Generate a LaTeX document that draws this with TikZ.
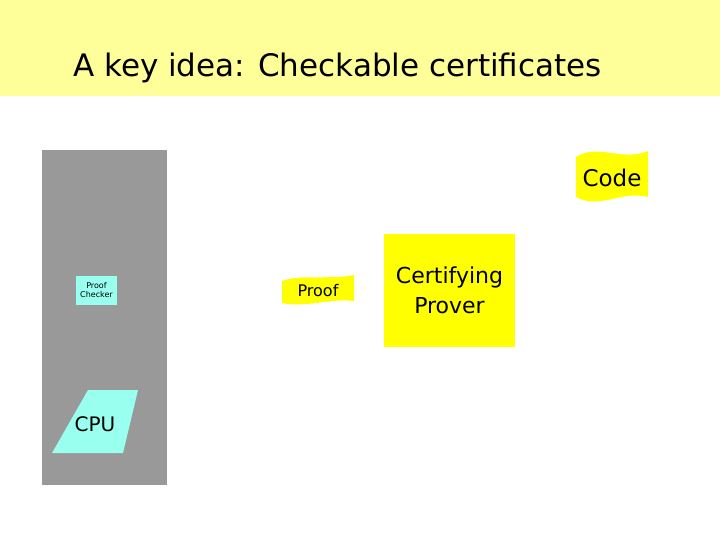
\documentclass[tikz,border=0pt]{standalone}
\usepackage{fontspec}
\setmainfont{DejaVu Sans}
\definecolor{ylw}{RGB}{255,255,0}
\definecolor{pale}{RGB}{255,255,153}
\definecolor{cy}{RGB}{153,255,238}
\begin{document}
\begin{tikzpicture}[x=1pt,y=-1pt,
  wave/.style={fill=ylw,draw=none},
  lbl/.style={inner sep=0pt,align=center}]
\useasboundingbox (0,0) rectangle (720,540);
\fill[white] (0,0) rectangle (720,540);
\fill[pale] (0,0) rectangle (720,96);
\node[lbl,anchor=base west,font=\fontsize{31}{36}\selectfont] (title) at (73,77) {A key idea: Checkable certificates};
\fill[black!40] (42,150) rectangle (167,485);
\node[fill=cy,minimum width=41pt,minimum height=29pt,inner sep=0pt,align=center,font=\fontsize{8}{9}\selectfont] (pc) at (96.5,290.5) {Proof\\Checker};
\fill[cy] (88,390) -- (138,390) -- (123,453) -- (52,453) -- cycle;
\node[lbl,font=\fontsize{20}{24}\selectfont] (cpu) at (95,424) {CPU};
\fill[wave] (576,157) .. controls (598,143) and (622,162) .. (648,151) -- (648,197) .. controls (622,190) and (600,210) .. (576,197) -- cycle;
\node[lbl,font=\fontsize{23}{26}\selectfont] (code) at (612,178) {Code};
\fill[wave] (282,281) .. controls (300,274) and (330,280) .. (354,275) -- (354,301) .. controls (330,298) and (305,308) .. (282,303) -- cycle;
\node[lbl,font=\fontsize{16}{18}\selectfont] (proof) at (318,291) {Proof};
\node[fill=ylw,minimum width=131pt,minimum height=113pt,inner sep=0pt,align=center,font=\fontsize{22}{30}\selectfont] (cp) at (449.5,290.5) {Certifying\\Prover};
\end{tikzpicture}
\end{document}
